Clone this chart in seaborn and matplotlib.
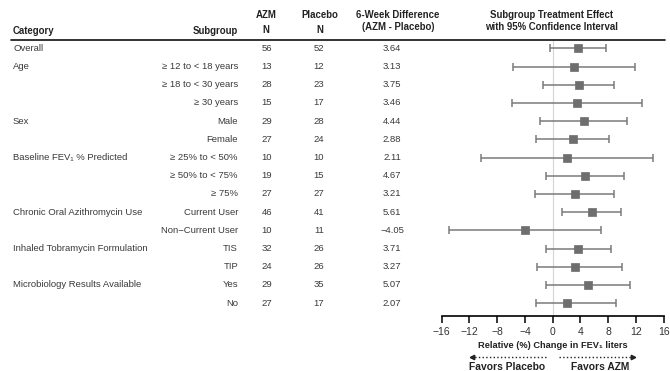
import pandas as pd
import seaborn as sns
import matplotlib.pyplot as plt
import matplotlib.transforms as mtransforms

# data
categories = ['Overall', 'Age', '', '', 'Sex', '', 'Baseline FEV\u2081 % Predicted', '', '',
              'Chronic Oral Azithromycin Use', '', 'Inhaled Tobramycin Formulation', '',
              'Microbiology Results Available', '']
subgroups = ['', '\u2265 12 to < 18 years', '\u2265 18 to < 30 years', '\u2265 30 years',
             'Male', 'Female', '\u2265 25% to < 50%', '\u2265 50% to < 75%', '\u2265 75%',
             'Current User', 'Non\u2212Current User', 'TIS', 'TIP', 'Yes', 'No']
azm_n = [56, 13, 28, 15, 29, 27, 10, 19, 27, 46, 10, 32, 24, 29, 27]
placebo_n = [52, 12, 23, 17, 28, 24, 10, 15, 27, 41, 11, 26, 26, 35, 17]
diff = [3.64, 3.13, 3.75, 3.46, 4.44, 2.88, 2.11, 4.67, 3.21, 5.61, -4.05, 3.71, 3.27, 5.07, 2.07]
ci_low = [-0.4, -5.7, -1.4, -5.9, -1.8, -2.4, -10.3, -1.0, -2.5, 1.3, -15.0, -0.9, -2.2, -0.9, -2.4]
ci_high = [7.7, 11.9, 8.8, 12.9, 10.7, 8.1, 14.5, 10.3, 8.8, 9.9, 6.9, 8.4, 10.0, 11.1, 9.1]
x_ticks = [-16, -12, -8, -4, 0, 4, 8, 12, 16]

df = pd.DataFrame({'category': categories, 'subgroup': subgroups, 'azm': azm_n,
                   'placebo': placebo_n, 'diff': diff, 'lo': ci_low, 'hi': ci_high})
df['row'] = range(len(df))

sns.set_theme(style='white')
plt.rcParams['font.family'] = ['Liberation Sans', 'DejaVu Sans']

W, H = 670, 371
fig = plt.figure(figsize=(W / 100, H / 100), dpi=100)
# forest panel: x from 441.7px to 663.7px, y from 40px to 316px
ax = fig.add_axes([441.7 / W, 1 - 316 / H, 222 / W, 276 / H])

row0, step = 48.3, 18.2
ax.set_ylim((316 - row0) / step, (40 - row0) / step)
ax.set_xlim(-16, 16)

ax.axvline(0, color='#d4d4d4', lw=0.8, zorder=0)
ax.errorbar(df['diff'], df['row'], xerr=[df['diff'] - df['lo'], df['hi'] - df['diff']],
            fmt='none', ecolor='#7a7a7a', elinewidth=1.1, capsize=2.8, capthick=1.1, zorder=2)
sns.scatterplot(data=df, x='diff', y='row', marker='s', s=38, color='#6e6e6e',
                edgecolor='#6e6e6e', linewidth=0.5, ax=ax, zorder=3, legend=False)

for s in ['top', 'left', 'right']:
    ax.spines[s].set_visible(False)
ax.spines['bottom'].set_color('black')
ax.spines['bottom'].set_linewidth(1.2)
ax.set_yticks([])
ax.set_xticks(x_ticks)
ax.tick_params(axis='x', direction='out', length=5, width=1.1, color='black',
               labelsize=7.5, labelcolor='#333333', pad=3, bottom=True)
ax.set_xlabel('')
ax.set_ylabel('')

# table columns (x in figure pixels, y in data rows)
tr = mtransforms.blended_transform_factory(fig.transFigure, ax.transData)
body = dict(fontsize=6.8, color='#3a3a3a', va='center', transform=tr)
for i, r in df.iterrows():
    fig.text(13 / W, r['row'], r['category'], ha='left', **body)
    fig.text(238 / W, r['row'], r['subgroup'], ha='right', **body)
    fig.text(267 / W, r['row'], str(r['azm']), ha='center', **body)
    fig.text(319 / W, r['row'], str(r['placebo']), ha='center', **body)
    fig.text(392 / W, r['row'], f"{r['diff']:.2f}".replace('-', '\u2212'), ha='center', **body)

# headers
hd = dict(fontsize=6.9, fontweight='bold', color='#222222', va='center')
fig.text(13 / W, 1 - 31 / H, 'Category', ha='left', **hd)
fig.text(238 / W, 1 - 31 / H, 'Subgroup', ha='right', **hd)
fig.text(266 / W, 1 - 15 / H, 'AZM', ha='center', **hd)
fig.text(266 / W, 1 - 30 / H, 'N', ha='center', **hd)
fig.text(320 / W, 1 - 15 / H, 'Placebo', ha='center', **hd)
fig.text(320 / W, 1 - 30 / H, 'N', ha='center', **hd)
fig.text(398 / W, 1 - 15 / H, '6-Week Difference', ha='center', **hd)
fig.text(398 / W, 1 - 27 / H, '(AZM - Placebo)', ha='center', **hd)
fig.text(552 / W, 1 - 15 / H, 'Subgroup Treatment Effect', ha='center', **hd)
fig.text(552 / W, 1 - 27 / H, 'with 95% Confidence Interval', ha='center', **hd)
fig.add_artist(plt.Line2D([11 / W, 665 / W], [1 - 39.5 / H, 1 - 39.5 / H],
                          color='#111111', lw=1.2, transform=fig.transFigure))

# axis label and favors arrows
bt = mtransforms.blended_transform_factory(ax.transData, fig.transFigure)
fig.text(0, 1 - 345 / H, 'Relative (%) Change in FEV\u2081 liters', ha='center', va='center',
         fontsize=6.7, fontweight='bold', color='#222222', transform=bt)
ya = 1 - 357 / H
ax.plot([-0.9, -11.4], [ya, ya], ls=':', lw=1.0, color='#222222', transform=bt, clip_on=False)
ax.plot([-11.6], [ya], marker='<', ms=3.2, color='#222222', transform=bt, clip_on=False)
ax.plot([0.9, 11.4], [ya, ya], ls=':', lw=1.0, color='#222222', transform=bt, clip_on=False)
ax.plot([11.6], [ya], marker='>', ms=3.2, color='#222222', transform=bt, clip_on=False)
fig.text(-6.6, 1 - 366.5 / H, 'Favors Placebo', ha='center', va='center',
         fontsize=7.4, fontweight='bold', color='#222222', transform=bt)
fig.text(6.8, 1 - 366.5 / H, 'Favors AZM', ha='center', va='center',
         fontsize=7.4, fontweight='bold', color='#222222', transform=bt)

plt.savefig('out.png', dpi=100)
